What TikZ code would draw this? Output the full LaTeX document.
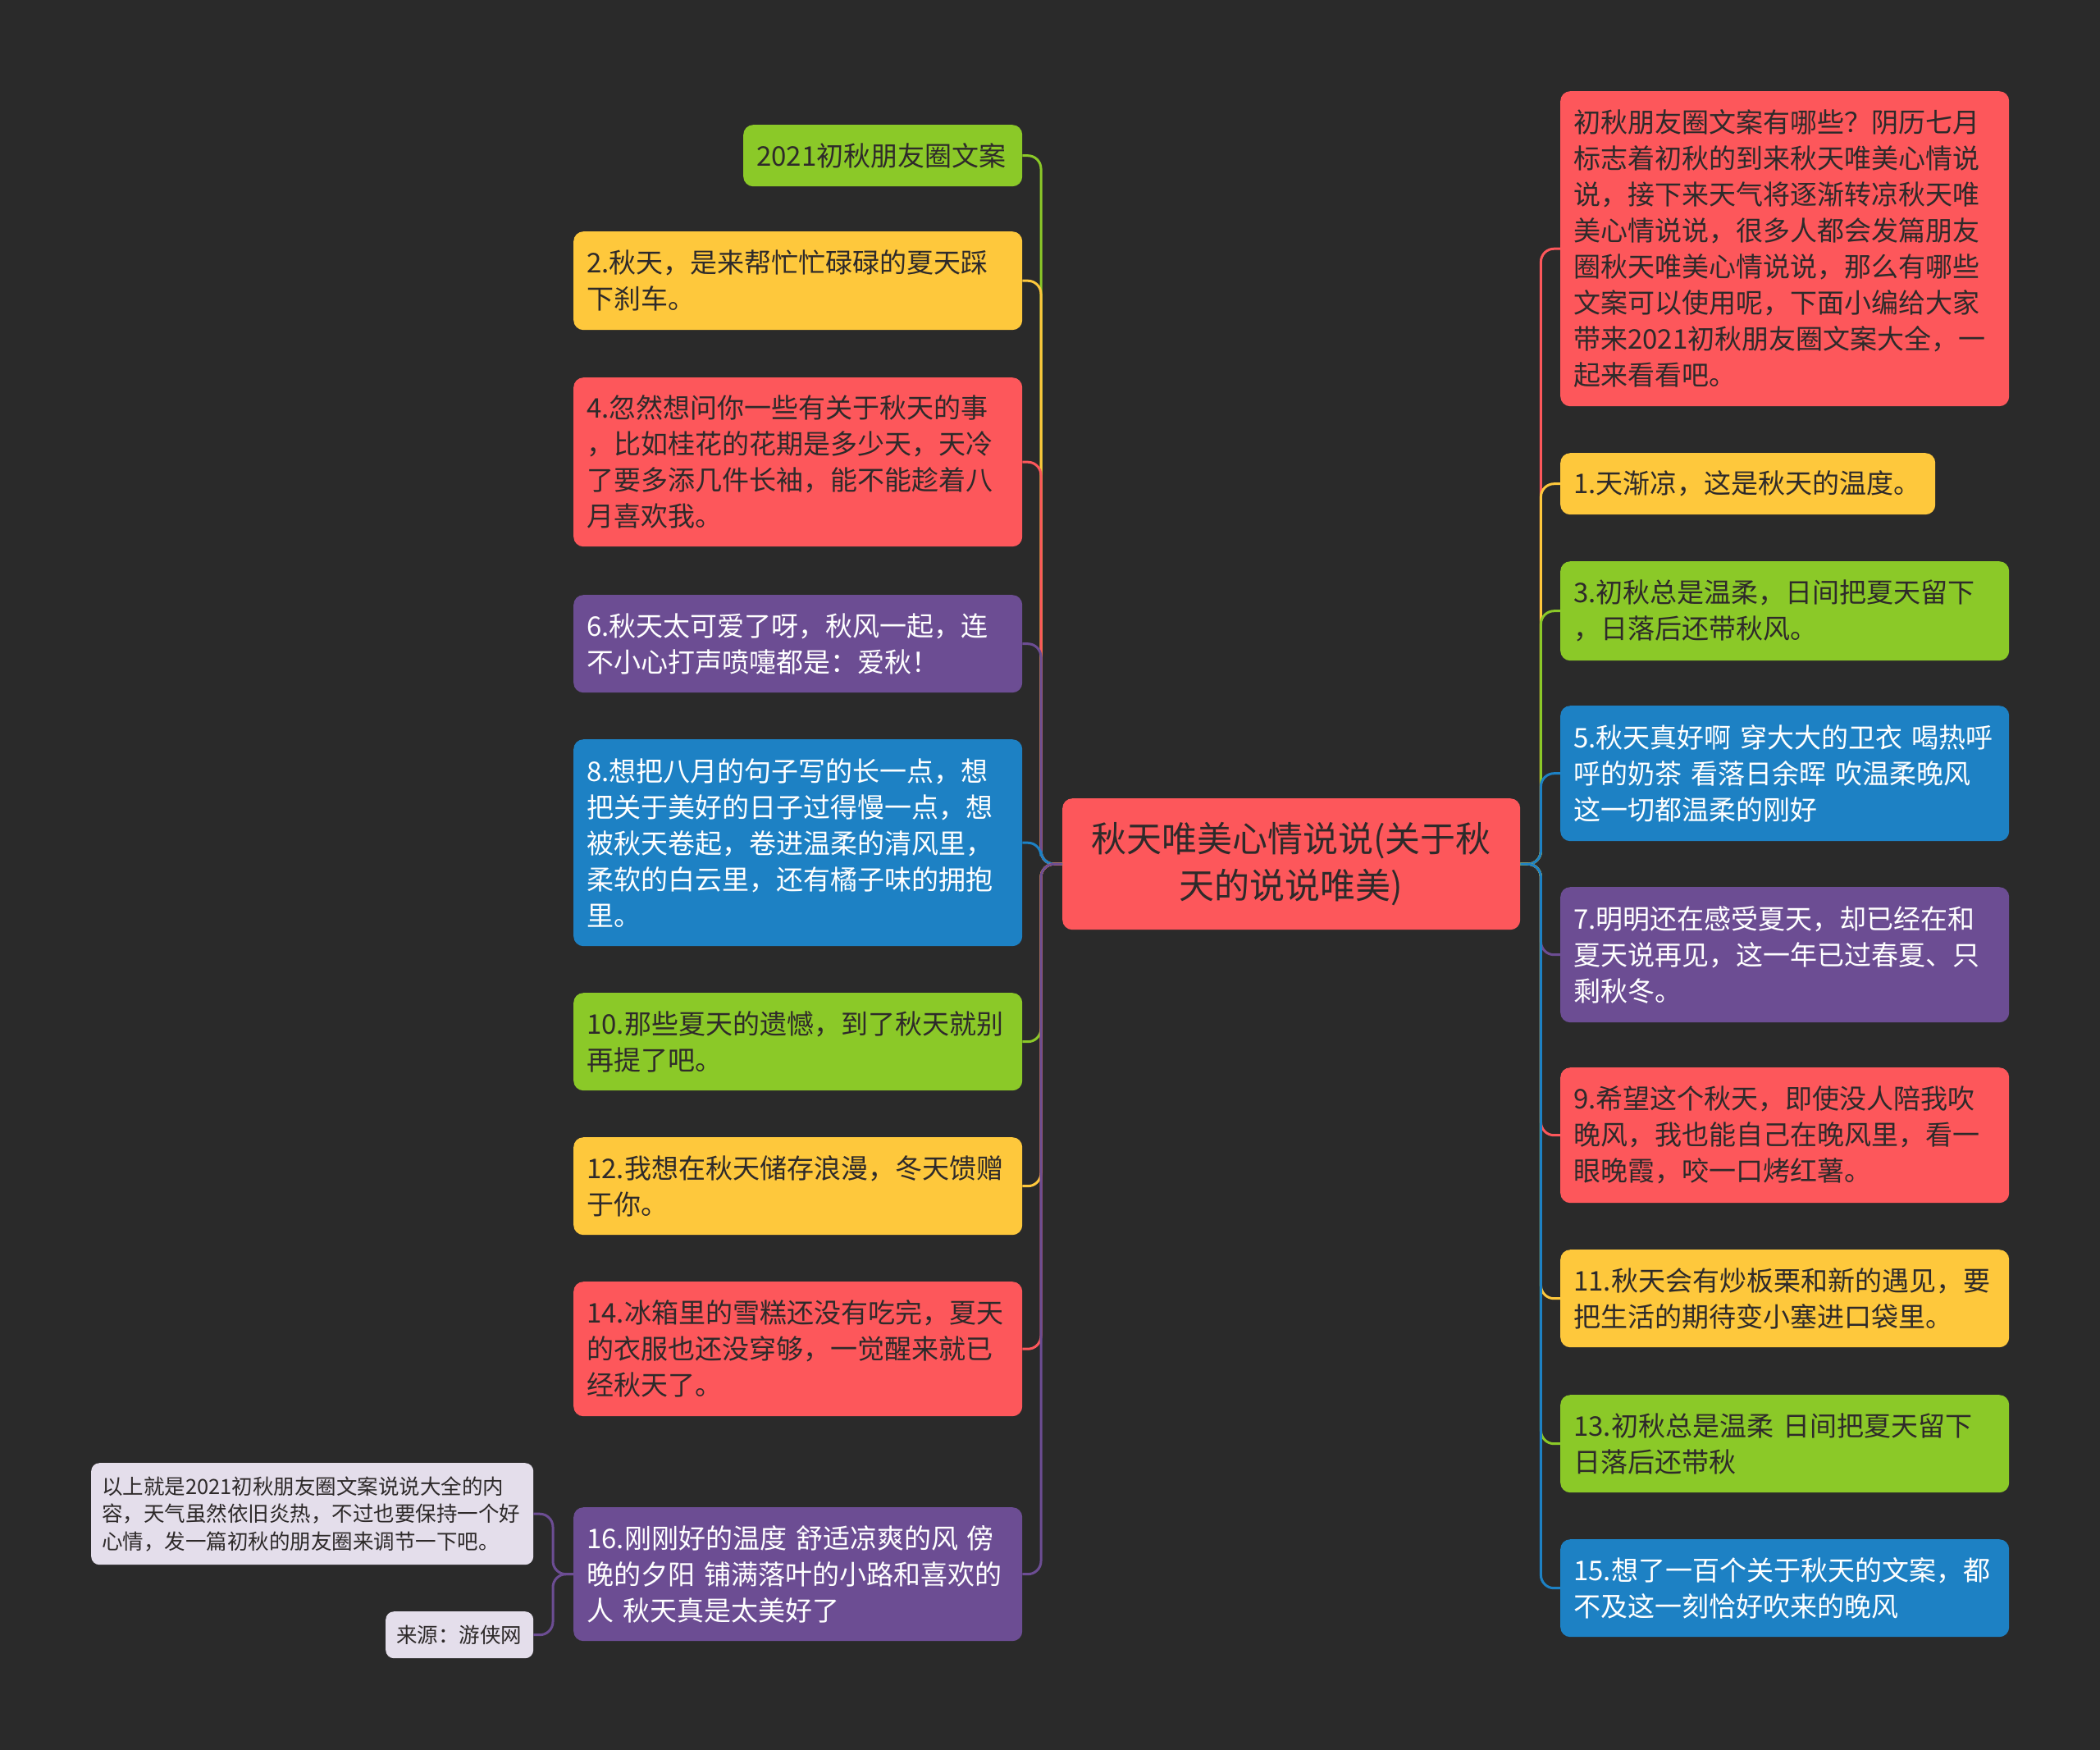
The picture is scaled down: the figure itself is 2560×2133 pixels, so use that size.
\documentclass[tikz,border=0pt]{standalone}
\usepackage{fontspec}
\newfontfamily\cjk{Noto Sans CJK SC}
\definecolor{bg}{HTML}{2A2A2A}
\definecolor{cgreen}{HTML}{8BC928}
\definecolor{cyellow}{HTML}{FEC83C}
\definecolor{cred}{HTML}{FD575B}
\definecolor{cpurple}{HTML}{6C4D93}
\definecolor{cblue}{HTML}{1D81C4}
\definecolor{cnote}{HTML}{E4DEEB}
\definecolor{dtext}{HTML}{2E2A2A}
\tikzset{
  leaf/.style={rounded corners=12pt, inner xsep=16pt, inner ysep=0pt, anchor=north west,
    align=left, font=\cjk\fontsize{33}{44}\selectfont},
  darkt/.style={text=dtext},
  whitet/.style={text=white},
  centerbox/.style={rounded corners=12pt, inner xsep=16pt, inner ysep=0pt, anchor=north west,
    align=center, fill=cred, text=dtext, font=\cjk\fontsize{43}{57}\selectfont},
  notebox/.style={rounded corners=10pt, inner xsep=13pt, inner ysep=0pt, anchor=north west,
    align=left, fill=cnote, text=dtext, font=\cjk\fontsize{25.5}{33.5}\selectfont},
  conn/.style={line width=3pt, rounded corners=16pt}
}
\begin{document}
\begin{tikzpicture}[x=1pt,y=-1pt]
\fill[bg] (0,0) rectangle (2560,2133);
\useasboundingbox (0,0) rectangle (2560,2133);

% center
\node[centerbox, minimum width=558pt, minimum height=160pt, text width=526pt] (c) at (1295,973)
  {秋天唯美心情说说(关于秋\\天的说说唯美)};

% left side
\node[leaf, darkt, fill=cgreen, minimum width=340pt, minimum height=75pt, text width=308pt] (L0) at (906,152)
  {2021初秋朋友圈文案};
\node[leaf, darkt, fill=cyellow, minimum width=547pt, minimum height=120pt, text width=515pt] (n2) at (699,282)
  {2.秋天，是来帮忙忙碌碌的夏天踩\\下刹车。};
\node[leaf, darkt, fill=cred, minimum width=547pt, minimum height=206pt, text width=515pt] (n4) at (699,460)
  {4.忽然想问你一些有关于秋天的事\\，比如桂花的花期是多少天，天冷\\了要多添几件长袖，能不能趁着八\\月喜欢我。};
\node[leaf, whitet, fill=cpurple, minimum width=547pt, minimum height=119pt, text width=515pt] (n6) at (699,725)
  {6.秋天太可爱了呀，秋风一起，连\\不小心打声喷嚏都是：爱秋！};
\node[leaf, whitet, fill=cblue, minimum width=547pt, minimum height=252pt, text width=515pt] (n8) at (699,901)
  {8.想把八月的句子写的长一点，想\\把关于美好的日子过得慢一点，想\\被秋天卷起，卷进温柔的清风里，\\柔软的白云里，还有橘子味的拥抱\\里。};
\node[leaf, darkt, fill=cgreen, minimum width=547pt, minimum height=119pt, text width=515pt] (n10) at (699,1210)
  {10.那些夏天的遗憾，到了秋天就别\\再提了吧。};
\node[leaf, darkt, fill=cyellow, minimum width=547pt, minimum height=119pt, text width=515pt] (n12) at (699,1386)
  {12.我想在秋天储存浪漫，冬天馈赠\\于你。};
\node[leaf, darkt, fill=cred, minimum width=547pt, minimum height=164pt, text width=515pt] (n14) at (699,1562)
  {14.冰箱里的雪糕还没有吃完，夏天\\的衣服也还没穿够，一觉醒来就已\\经秋天了。};
\node[leaf, whitet, fill=cpurple, minimum width=547pt, minimum height=163pt, text width=515pt] (n16) at (699,1837)
  {16.刚刚好的温度~舒适凉爽的风~傍\\晚的夕阳~铺满落叶的小路和喜欢的\\人~秋天真是太美好了};

% n16 children
\node[notebox, minimum width=539pt, minimum height=124pt, text width=513pt] (note) at (111,1783)
  {以上就是2021初秋朋友圈文案说说大全的内\\容，天气虽然依旧炎热，不过也要保持一个好\\心情，发一篇初秋的朋友圈来调节一下吧。};
\node[notebox, minimum width=180pt, minimum height=57pt, text width=154pt] (src) at (470,1964)
  {来源：游侠网};

% right side
\node[leaf, darkt, fill=cred, minimum width=547pt, minimum height=384pt, text width=515pt] (intro) at (1902,111)
  {初秋朋友圈文案有哪些？阴历七月\\标志着初秋的到来秋天唯美心情说\\说，接下来天气将逐渐转凉秋天唯\\美心情说说，很多人都会发篇朋友\\圈秋天唯美心情说说，那么有哪些\\文案可以使用呢，下面小编给大家\\带来2021初秋朋友圈文案大全，一\\起来看看吧。};
\node[leaf, darkt, fill=cyellow, minimum width=457pt, minimum height=75pt, text width=425pt] (n1) at (1902,552)
  {1.天渐凉，这是秋天的温度。};
\node[leaf, darkt, fill=cgreen, minimum width=547pt, minimum height=121pt, text width=515pt] (n3) at (1902,684)
  {3.初秋总是温柔，日间把夏天留下\\，日落后还带秋风。};
\node[leaf, whitet, fill=cblue, minimum width=547pt, minimum height=165pt, text width=515pt] (n5) at (1902,860)
  {5.秋天真好啊~穿大大的卫衣~喝热呼\\呼的奶茶~看落日余晖~吹温柔晚风\\这一切都温柔的刚好};
\node[leaf, whitet, fill=cpurple, minimum width=547pt, minimum height=165pt, text width=515pt] (n7) at (1902,1081)
  {7.明明还在感受夏天，却已经在和\\夏天说再见，这一年已过春夏、只\\剩秋冬。};
\node[leaf, darkt, fill=cred, minimum width=547pt, minimum height=165pt, text width=515pt] (n9) at (1902,1301)
  {9.希望这个秋天，即使没人陪我吹\\晚风，我也能自己在晚风里，看一\\眼晚霞，咬一口烤红薯。};
\node[leaf, darkt, fill=cyellow, minimum width=547pt, minimum height=119pt, text width=515pt] (n11) at (1902,1523)
  {11.秋天会有炒板栗和新的遇见，要\\把生活的期待变小塞进口袋里。};
\node[leaf, darkt, fill=cgreen, minimum width=547pt, minimum height=119pt, text width=515pt] (n13) at (1902,1700)
  {13.初秋总是温柔~日间把夏天留下\\日落后还带秋};
\node[leaf, whitet, fill=cblue, minimum width=547pt, minimum height=119pt, text width=515pt] (n15) at (1902,1876)
  {15.想了一百个关于秋天的文案，都\\不及这一刻恰好吹来的晚风};

% connectors left
\draw[conn, cgreen]  (c.west) -- ++(-26,0) |- (L0.east);
\draw[conn, cyellow] (c.west) -- ++(-26,0) |- (n2.east);
\draw[conn, cred]    (c.west) -- ++(-26,0) |- (n4.east);
\draw[conn, cpurple] (c.west) -- ++(-26,0) |- (n6.east);
\draw[conn, cblue]   (c.west) -- ++(-26,0) |- (n8.east);
\draw[conn, cgreen]  (c.west) -- ++(-26,0) |- (n10.east);
\draw[conn, cyellow] (c.west) -- ++(-26,0) |- (n12.east);
\draw[conn, cred]    (c.west) -- ++(-26,0) |- (n14.east);
\draw[conn, cpurple] (c.west) -- ++(-26,0) |- (n16.east);

% connectors right
\draw[conn, cred]    (c.east) -- ++(25,0) |- (intro.west);
\draw[conn, cyellow] (c.east) -- ++(25,0) |- (n1.west);
\draw[conn, cgreen]  (c.east) -- ++(25,0) |- (n3.west);
\draw[conn, cblue]   (c.east) -- ++(25,0) |- (n5.west);
\draw[conn, cpurple] (c.east) -- ++(25,0) |- (n7.west);
\draw[conn, cred]    (c.east) -- ++(25,0) |- (n9.west);
\draw[conn, cyellow] (c.east) -- ++(25,0) |- (n11.west);
\draw[conn, cgreen]  (c.east) -- ++(25,0) |- (n13.west);
\draw[conn, cblue]   (c.east) -- ++(25,0) |- (n15.west);

% n16 children connectors
\draw[conn, cpurple] (n16.west) -- ++(-25,0) |- (note.east);
\draw[conn, cpurple] (n16.west) -- ++(-25,0) |- (src.east);
\end{tikzpicture}
\end{document}
